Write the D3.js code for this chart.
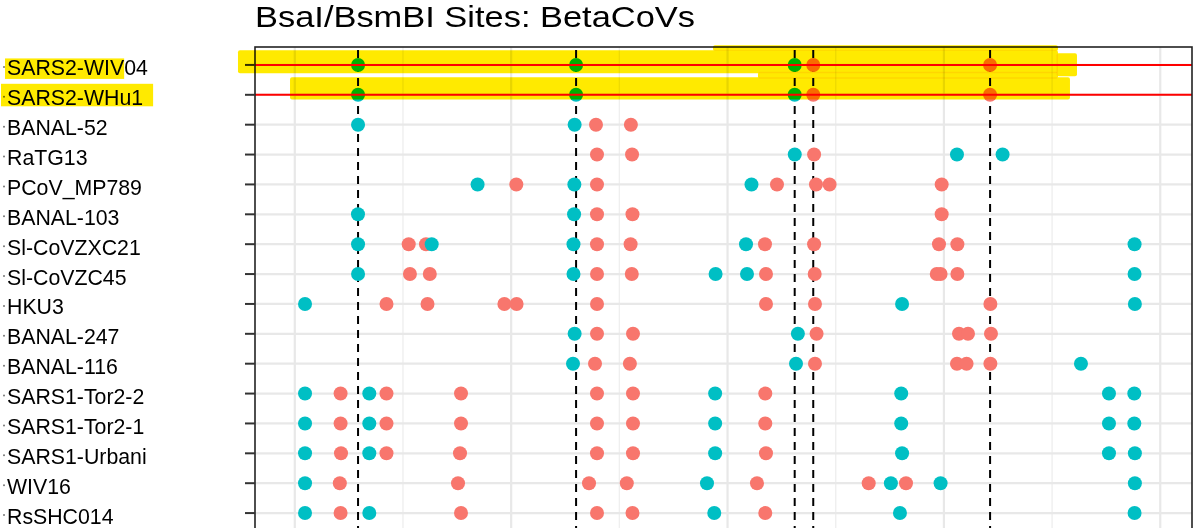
<!DOCTYPE html>
<html>
<head>
<meta charset="utf-8">
<script src="https://cdn.jsdelivr.net/npm/d3@7/dist/d3.min.js"></script>
<style>
  html, body { margin: 0; padding: 0; background: #fff; }
  svg { display: block; font-family: "Liberation Sans", Arial, Helvetica, sans-serif; }
</style>
</head>
<body>
<svg id="chart" width="1200" height="528"></svg>
<script>
// genomes, top to bottom
const genomes = [
  'SARS2-WIV04', 'SARS2-WHu1', 'BANAL-52', 'RaTG13', 'PCoV_MP789', 'BANAL-103',
  'Sl-CoVZXC21', 'Sl-CoVZC45', 'HKU3', 'BANAL-247', 'BANAL-116',
  'SARS1-Tor2-2', 'SARS1-Tor2-1', 'SARS1-Urbani', 'WIV16', 'RsSHC014'
]

// site positions (nt) per genome, one list per row
const tealSites = [
  [2192, 9750, 17328],
  [2192, 9750, 17328],
  [2192, 9700],
  [17330, 22953, 24534],
  [6336, 9690, 15830],
  [2190, 9680],
  [2192, 4745, 9660, 15640, 29109],
  [2192, 9660, 14586, 15674, 29109],
  [354, 21050, 29120],
  [9700, 17438],
  [9643, 17373, 27251],
  [354, 2582, 14570, 21020, 28222, 29100],
  [354, 2582, 14570, 21020, 28222, 29100],
  [354, 2582, 14570, 21050, 28222, 29120],
  [354, 14288, 20662, 22385, 29120],
  [354, 2582, 14540, 20977, 29109]
]
const salmonSites = [
  [17971, 24101],
  [17971, 24101],
  [10440, 11650],
  [10475, 11690, 18000],
  [7678, 10475, 16714, 18066, 18537, 22423],
  [10475, 11705, 22423],
  [3948, 4548, 10475, 11640, 16298, 18000, 22329, 22967],
  [3990, 4679, 10475, 11681, 16333, 18021, 22253, 22385, 22967],
  [3178, 4600, 7265, 7688, 10475, 16333, 18031, 24111],
  [10475, 11723, 18086, 23023, 23335, 24132],
  [10406, 11615, 18031, 22953, 23286, 24111],
  [1587, 3178, 5761, 10475, 11723, 16308],
  [1587, 3178, 5761, 10475, 11723, 16308],
  [1601, 3178, 5726, 10475, 11723, 16333],
  [1560, 5657, 10198, 11508, 16021, 19893, 21186],
  [1587, 5761, 10475, 11705, 16308]
]

// reference sites of SARS2-WIV04 (dashed lines) and the rows marked in red
const refSites = [2192, 9750, 17328, 17971, 24101]
const markedRows = ['SARS2-WIV04', 'SARS2-WHu1']

const majorBreaks = [0, 7500, 15000, 22500, 30000]
const minorBreaks = [3750, 11250, 18750, 26250]

const title = 'BsaI/BsmBI Sites: BetaCoVs'

// highlighter strokes drawn over the picture: row, nt span, pixel offsets from row centre
const highlightBands = [
  { row: 'SARS2-WIV04', x0: -1970, x1: 26454, top: -14.6, bottom: 8.4 },
  { row: 'SARS2-WIV04', x0: 14496, x1: 26454, top: -19.6, bottom: -14 },
  { row: 'SARS2-WIV04', x0: 26400, x1: 27113, top: -11.6, bottom: 11.4 },
  { row: 'SARS2-WHu1', x0: -166, x1: 26870, top: -17.5, bottom: 4.6 },
  { row: 'SARS2-WHu1', x0: 16055, x1: 26454, top: -23, bottom: -16 }
]

const W = 1200, H = 528
const panel = { left: 255, right: 1192, top: 47, bottom: 531 }
const colors = { teal: '#00BFC4', salmon: '#F8766D' }
const R = 7

const svg = d3.select('#chart')
svg.append('rect').attr('width', W).attr('height', H).attr('fill', '#fff')

const x = d3.scaleLinear().domain([-1380, 31100]).range([panel.left, panel.right])
const y = d3.scalePoint().domain(genomes).range([panel.top, panel.bottom]).padding(0.6)

const plot = svg.append('g')
plot.append('rect')
  .attr('x', panel.left).attr('y', panel.top)
  .attr('width', panel.right - panel.left).attr('height', panel.bottom - panel.top)
  .attr('fill', '#fff')

// grid
plot.selectAll('line.minor').data(minorBreaks).join('line')
  .attr('class', 'minor')
  .attr('x1', d => x(d)).attr('x2', d => x(d))
  .attr('y1', panel.top).attr('y2', panel.bottom)
  .attr('stroke', '#efefef').attr('stroke-width', 1.4)
plot.selectAll('line.major').data(majorBreaks).join('line')
  .attr('class', 'major')
  .attr('x1', d => x(d)).attr('x2', d => x(d))
  .attr('y1', panel.top).attr('y2', panel.bottom)
  .attr('stroke', '#e8e8e8').attr('stroke-width', 2.2)
plot.selectAll('line.hgrid').data(genomes).join('line')
  .attr('class', 'hgrid')
  .attr('x1', panel.left).attr('x2', panel.right)
  .attr('y1', d => y(d)).attr('y2', d => y(d))
  .attr('stroke', '#e8e8e8').attr('stroke-width', 2.2)

// dashed reference lines
plot.selectAll('line.ref').data(refSites).join('line')
  .attr('class', 'ref')
  .attr('x1', d => x(d)).attr('x2', d => x(d))
  .attr('y1', panel.top).attr('y2', panel.bottom)
  .attr('stroke', '#000').attr('stroke-width', 2)
  .attr('stroke-dasharray', '8 6').attr('stroke-dashoffset', 11)

// points: salmon first, teal on top
function pointsFor(lists, kind){
  const out = []
  lists.forEach((list, i) => list.forEach(pos => out.push({ genome: genomes[i], pos, kind })))
  return out
}
const points = pointsFor(salmonSites, 'salmon').concat(pointsFor(tealSites, 'teal'))
plot.selectAll('circle.site').data(points).join('circle')
  .attr('class', 'site')
  .attr('cx', d => x(d.pos)).attr('cy', d => y(d.genome))
  .attr('r', R)
  .attr('fill', d => colors[d.kind])

// red lines through the SARS2 rows
plot.selectAll('line.mark').data(markedRows).join('line')
  .attr('class', 'mark')
  .attr('x1', panel.left).attr('x2', panel.right)
  .attr('y1', d => y(d)).attr('y2', d => y(d))
  .attr('stroke', '#ff0000').attr('stroke-width', 2)

// panel border
plot.append('rect')
  .attr('x', panel.left).attr('y', panel.top)
  .attr('width', panel.right - panel.left).attr('height', panel.bottom - panel.top)
  .attr('fill', 'none').attr('stroke', '#222').attr('stroke-width', 1.6)

// y axis ticks and labels
const yAxis = svg.append('g')
yAxis.selectAll('line.tick').data(genomes).join('line')
  .attr('class', 'tick')
  .attr('x1', panel.left - 10).attr('x2', panel.left)
  .attr('y1', d => y(d)).attr('y2', d => y(d))
  .attr('stroke', '#333').attr('stroke-width', 2)
yAxis.selectAll('circle.bullet').data(genomes).join('circle')
  .attr('class', 'bullet')
  .attr('cx', 4).attr('cy', d => y(d) + 2)
  .attr('r', 1).attr('fill', '#777')
const labels = yAxis.selectAll('text.lab').data(genomes).join('text')
  .attr('class', 'lab')
  .attr('x', 7).attr('y', d => y(d) + 10.5)
  .attr('font-size', 21.3)
  .attr('fill', '#000')
  .text(d => d)

// title
svg.append('text')
  .attr('x', panel.left).attr('y', 27)
  .attr('font-size', 29.5)
  .attr('textLength', 440).attr('lengthAdjust', 'spacingAndGlyphs')
  .attr('fill', '#000')
  .text(title)

// yellow highlighter (multiply so marks below turn green/orange)
const hl = svg.append('g').style('mix-blend-mode', 'multiply')
const marker = '#ffea00'
hl.selectAll('rect.band').data(highlightBands).join('rect')
  .attr('class', 'band')
  .attr('x', d => x(d.x0)).attr('width', d => x(d.x1) - x(d.x0))
  .attr('y', d => y(d.row) + d.top).attr('height', d => d.bottom - d.top)
  .attr('rx', 2)
  .attr('fill', marker)
  .style('mix-blend-mode', 'multiply')

// label highlights: first one covers "SARS2-WIV", second the whole label
labels.filter(d => markedRows.includes(d)).each(function(d, i){
  const node = this
  const chars = i === 0 ? 9 : d.length
  const w = node.getSubStringLength(0, chars)
  const pad = i === 0 ? [2, 0] : [6, 10]
  hl.append('rect')
    .attr('x', 7 - pad[0]).attr('width', w + pad[0] + pad[1])
    .attr('y', y(d) + (i === 0 ? -6.5 : -11))
    .attr('height', i === 0 ? 20.5 : 22.5)
    .attr('fill', marker)
    .style('mix-blend-mode', 'multiply')
})
</script>
</body>
</html>
